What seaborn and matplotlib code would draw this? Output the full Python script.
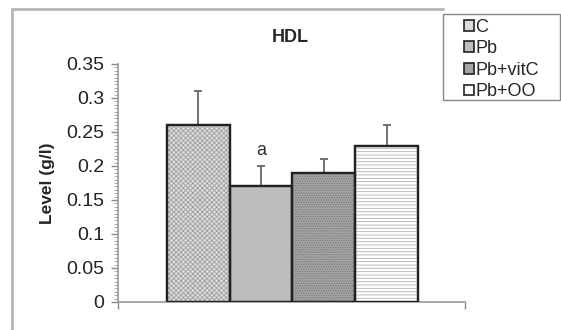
import pandas as pd
import seaborn as sns
import matplotlib.pyplot as plt
from matplotlib.lines import Line2D
from matplotlib.patches import Patch, Rectangle
from matplotlib.ticker import MultipleLocator

# HDL levels per group
groups = ['C', 'Pb', 'Pb+vitC', 'Pb+OO']
values = [0.26, 0.17, 0.19, 0.23]
errors = [0.05, 0.03, 0.02, 0.03]
marks = ['', 'a', '', '']

colors = ['#dcdcdc', '#bdbdbd', '#a4a4a4', '#ffffff']
hatches = ['xxxxxxx', '', '.......', '-----']
hatch_colors = ['#a0a0a0', '#bdbdbd', '#7a7a7a', '#b0b0b0']

df = pd.DataFrame({'group': groups, 'value': values})

sns.set_style('white')
plt.rcParams['font.family'] = ['Liberation Sans', 'DejaVu Sans']
plt.rcParams['hatch.linewidth'] = 0.6

fig = plt.figure(figsize=(5.61, 3.30), dpi=100)
ax = fig.add_axes([118 / 561, 28 / 330, 347 / 561, 238 / 330])

sns.barplot(data=df, x='group', y='value', hue='group', palette=colors,
            width=1.0, errorbar=None, legend=False, ax=ax,
            edgecolor='#222222', linewidth=1.6, zorder=2)

# light pattern overlays inside each bar
bars = ax.patches[:len(groups)]
for b, h, hc in zip(bars, hatches, hatch_colors):
    if h:
        ax.add_patch(Rectangle(b.get_xy(), b.get_width(), b.get_height(),
                               facecolor='none', edgecolor=hc, lw=0,
                               hatch=h, zorder=2.5))
    # redraw outline on top
    ax.add_patch(Rectangle(b.get_xy(), b.get_width(), b.get_height(),
                           facecolor='none', edgecolor='#222222', lw=1.6,
                           zorder=3))

xs = range(len(groups))
ax.errorbar(xs, values, yerr=[[0] * len(errors), errors], fmt='none',
            ecolor='#666666', elinewidth=1.3, capsize=3, capthick=1.3,
            zorder=1)
for x, v, e, m in zip(xs, values, errors, marks):
    if m:
        ax.text(x, v + e + 0.01, m, ha='center', va='bottom', fontsize=13,
                color='#333333')

ax.set_ylim(0, 0.35)
ax.set_xlim(-1.28, 4.25)
ax.yaxis.set_minor_locator(MultipleLocator(0.005))
ax.set_yticks([0, 0.05, 0.1, 0.15, 0.2, 0.25, 0.3, 0.35])
ax.set_yticklabels(['0', '0.05', '0.1', '0.15', '0.2', '0.25', '0.3', '0.35'])
ax.set_xticks([-1.28, 4.25])
ax.set_xticklabels(['', ''])
ax.tick_params(axis='y', which='major', direction='out', length=5, width=1,
               color='#888888', labelsize=14, pad=5, left=True,
               labelcolor='#222222')
ax.tick_params(axis='y', which='minor', direction='out', length=3, width=0.6,
               color='#999999', left=True)
ax.tick_params(axis='x', direction='out', length=5, width=1, color='#888888',
               bottom=True)
ax.set_xlabel('')
ax.set_ylabel('Level (g/l)', fontsize=12.5, fontweight='bold', labelpad=8)
for s in ['top', 'right']:
    ax.spines[s].set_visible(False)
for s in ['left', 'bottom']:
    ax.spines[s].set_color('#999999')
    ax.spines[s].set_linewidth(1.2)

fig.text(290 / 561, 1 - 37 / 330, 'HDL', ha='center', va='center',
         fontsize=13, fontweight='bold')

# chart area border (cropped in the reference)
fig.add_artist(Line2D([12 / 561, 12 / 561], [0, 1 - 9 / 330],
                      transform=fig.transFigure, color='#b5b5b5', lw=2))
fig.add_artist(Line2D([12 / 561, 443 / 561], [1 - 9 / 330, 1 - 9 / 330],
                      transform=fig.transFigure, color='#b5b5b5', lw=2))

# legend box, then the entries inside it
fig.add_artist(Rectangle((443 / 561, 1 - 100 / 330), 117 / 561, 86 / 330,
                         transform=fig.transFigure, facecolor='white',
                         edgecolor='#888888', lw=1))
handles = [Patch(facecolor=c, edgecolor='#222222', linewidth=1.2)
           for c in colors]
leg = fig.legend(handles, groups, loc='upper left',
                 bbox_to_anchor=(462 / 561, 1 - 17 / 330),
                 fontsize=13, handlelength=0.55,
                 handleheight=0.55, handletextpad=0.1, labelspacing=0.25,
                 borderpad=0.1, frameon=False, borderaxespad=0)

fig.savefig('out.png', dpi=100)
